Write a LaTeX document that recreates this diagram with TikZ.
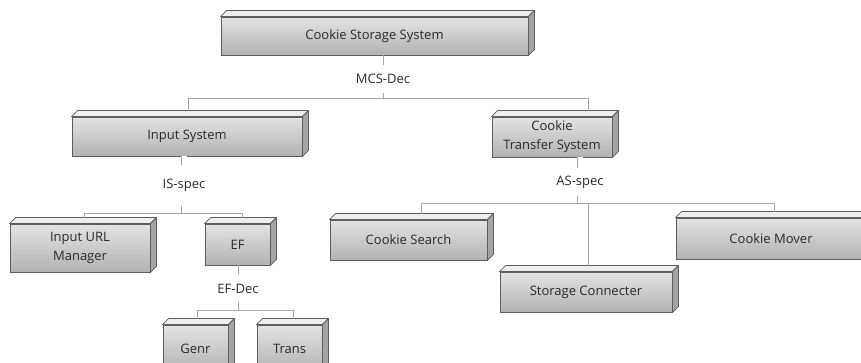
\documentclass[tikz,border=0pt]{standalone}
\usepackage{fontspec}
\setmainfont{Open Sans}
\usetikzlibrary{calc}

\definecolor{linec}{HTML}{A6A6A6}
\definecolor{edgec}{HTML}{5E5E5E}
\definecolor{facehi}{HTML}{E3E3E3}
\definecolor{facelo}{HTML}{B2B2B2}
\definecolor{topc}{HTML}{EEEEEE}
\definecolor{sidec}{HTML}{A4A4A4}
\definecolor{textc}{HTML}{2A2A2A}

\tikzset{
  slab/.style={draw=edgec, line width=0.9pt, top color=facehi, bottom color=facelo,
    inner sep=0pt, align=center, text=textc, font=\fontsize{13}{19}\selectfont},
  bevel/.style={draw=edgec, line width=0.8pt, line join=round},
  conn/.style={draw=linec, line width=0.9pt},
  dbl/.style={draw=linec, line width=0.8pt, double=white, double distance=5pt},
  tag/.style={inner sep=0pt, text=textc, font=\fontsize{13}{14}\selectfont}
}

% 3D slab: name, left, top, right, bottom, text
\newcommand\slabbox[6]{%
  \node[slab, minimum width={#4-#2}, minimum height={#5-#3}] (#1) at ({(#2+#4)/2},{(#3+#5)/2}) {#6};
  \draw[bevel, fill=topc] (#1.north west) -- ++(6,-6) -- ([shift={(6,-6)}]#1.north east) -- (#1.north east) -- cycle;
  \draw[bevel, fill=sidec] (#1.north east) -- ++(6,-6) -- ([shift={(6,-6)}]#1.south east) -- (#1.south east) -- cycle;
}

\begin{document}
\begin{tikzpicture}[x=1pt,y=-1pt]
\useasboundingbox (0,0) rectangle (861,362);
\clip (0,0) rectangle (861,362);

% boxes
\slabbox{css}{221}{17}{528}{55}{Cookie Storage System}
\slabbox{inp}{72}{117}{302}{156}{Input System}
\slabbox{cts}{492}{117}{612}{157}{Cookie\\Transfer System}
\slabbox{url}{10}{224}{150}{272}{Input URL\\Manager}
\slabbox{ef}{205}{224}{270}{265}{EF}
\slabbox{gen}{163}{325}{228}{372}{Genr}
\slabbox{trs}{257}{325}{322}{372}{Trans}
\slabbox{src}{330}{220}{487}{260}{Cookie Search}
\slabbox{stc}{500}{272}{672}{312}{Storage Connecter}
\slabbox{mov}{676}{218}{866}{259}{Cookie Mover}

% decomposition labels
\node[tag, minimum height=28] (mcs) at (383,79) {MCS-Dec};
\node[tag, minimum height=41] (isl) at (184,185.5) {IS-spec};
\node[tag, minimum height=28] (asl) at (580,182) {AS-spec};
\node[tag, minimum height=27] (efd) at (238,288.5) {EF-Dec};

% connector end points on the upper faces
\coordinate (inpT) at (188,111);
\coordinate (ctsT) at (588,111);
\coordinate (urlT) at (84,218);
\coordinate (efT)  at (242,218);
\coordinate (genT) at (197,319);
\coordinate (trsT) at (293,319);
\coordinate (srcT) at (421,214);
\coordinate (stcT) at (588,266);
\coordinate (movT) at (774,212);

% junction points of the branch bars
\coordinate (bar1) at (383,98);
\coordinate (bar2) at (184,213);
\coordinate (bar3) at (238,310);
\coordinate (bar4) at (580,203);

% top level
\draw[conn] (css.south -| mcs.north) -- (mcs.north);
\draw[conn] (mcs.south) -- (bar1);
\draw[conn] (inpT) -- (inpT |- bar1) -- (ctsT |- bar1) -- (ctsT);

% input system branch
\draw[dbl] (isl.north |- inp.south) -- (isl.north);
\draw[dbl] (isl.south) -- (bar2);
\draw[conn] (urlT) -- (urlT |- bar2) -- (efT |- bar2) -- (efT);

% EF branch
\draw[conn] (ef.south -| efd.north) -- (efd.north);
\draw[conn] (efd.south) -- (bar3);
\draw[conn] (genT) -- (genT |- bar3) -- (trsT |- bar3) -- (trsT);

% transfer system branch
\draw[dbl] (asl.north |- cts.south) -- (asl.north);
\draw[dbl] (asl.south) -- (bar4);
\draw[conn] (srcT) -- (srcT |- bar4) -- (movT |- bar4) -- (movT);
\draw[conn] (stcT |- bar4) -- (stcT);
\end{tikzpicture}
\end{document}
